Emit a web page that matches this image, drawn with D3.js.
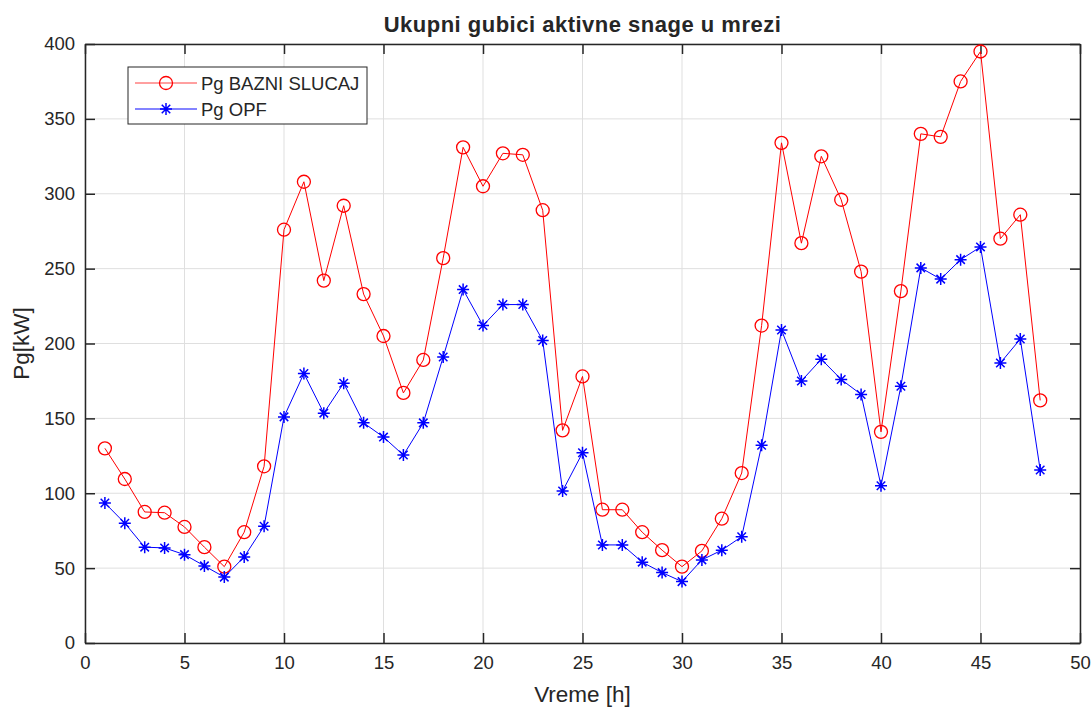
<!DOCTYPE html>
<html lang="en">
<head>
  <meta charset="UTF-8">
  <title>Ukupni gubici aktivne snage u mrezi</title>
  <script src="https://d3js.org/d3.v7.min.js"></script>
  <style>
    body { margin: 0; background: #fff; }
    text { font-family: "Liberation Sans", Arial, sans-serif; fill: #262626; }
  </style>
</head>
<body>
  <svg id="chart"></svg>
  <script>
      const hours = d3.range(1, 49);
      const pgBazni = [130, 109.5, 87.5, 87, 77.5, 64, 51, 74, 118, 276,
        308, 242, 292, 233, 205, 167, 189, 257, 331, 305,
        327, 326, 289, 142, 178, 89, 89, 74, 62, 51,
        61.5, 83, 113.5, 212, 334, 267, 325, 296, 248, 141,
        235, 340, 338, 375, 395, 270, 286, 162];
      const pgOpf = [93.5, 80, 64, 63.5, 59, 51.5, 44, 57.5, 78, 151,
        180, 153.5, 173.5, 147, 137.5, 125.5, 147, 191, 236, 212,
        226, 226, 202, 101.5, 127, 65.5, 65.5, 54, 47, 41,
        55.5, 62, 71, 132, 209, 175, 189.5, 176, 166, 105,
        171.5, 250.5, 243, 256, 264.5, 187, 203, 115.5];
      const xTicks = d3.range(0, 51, 5);
      const yTicks = d3.range(0, 401, 50);

      const W = 1091, H = 708;
      const m = { left: 85, right: 11, top: 44, bottom: 65 };
      const svg = d3.select('#chart').attr('width', W).attr('height', H);

      const x = d3.scaleLinear().domain([0, 50]).range([m.left, W - m.right]);
      const y = d3.scaleLinear().domain([0, 400]).range([H - m.bottom, m.top]);

      // grid
      svg.append('g').selectAll('line').data(xTicks).enter().append('line')
        .attr('x1', d => x(d)).attr('x2', d => x(d))
        .attr('y1', y(0)).attr('y2', y(400))
        .attr('stroke', '#dfdfdf').attr('stroke-width', 1);
      svg.append('g').selectAll('line').data(yTicks).enter().append('line')
        .attr('x1', x(0)).attr('x2', x(50))
        .attr('y1', d => y(d)).attr('y2', d => y(d))
        .attr('stroke', '#dfdfdf').attr('stroke-width', 1);

      // axes with inward ticks on all sides
      const tk = 10;
      const fs = '18.5px';
      svg.append('g').attr('transform', `translate(0,${y(0)})`)
        .call(d3.axisBottom(x).tickValues(xTicks).tickSizeInner(-tk).tickSizeOuter(0).tickPadding(13))
        .call(g => g.selectAll('text').style('font-size', fs));
      svg.append('g').attr('transform', `translate(0,${y(400)})`)
        .call(d3.axisTop(x).tickValues(xTicks).tickSizeInner(-tk).tickSizeOuter(0).tickFormat(''));
      svg.append('g').attr('transform', `translate(${x(0)},0)`)
        .call(d3.axisLeft(y).tickValues(yTicks).tickSizeInner(-tk).tickSizeOuter(0).tickPadding(10))
        .call(g => g.selectAll('text').style('font-size', fs));
      svg.append('g').attr('transform', `translate(${x(50)},0)`)
        .call(d3.axisRight(y).tickValues(yTicks).tickSizeInner(-tk).tickSizeOuter(0).tickFormat(''));
      svg.selectAll('.domain').attr('stroke', '#262626').attr('stroke-width', 1.5);
      svg.selectAll('.tick line').attr('stroke', '#262626').attr('stroke-width', 1.5);
      svg.selectAll('.tick text').attr('fill', '#262626');

      const line = d3.line().x((d, i) => x(hours[i])).y(d => y(d));

      // red base case
      svg.append('path').datum(pgBazni).attr('d', line)
        .attr('fill', 'none').attr('stroke', '#ff0000').attr('stroke-width', 1);
      svg.append('g').selectAll('circle').data(pgBazni).enter().append('circle')
        .attr('cx', (d, i) => x(hours[i])).attr('cy', d => y(d)).attr('r', 6.5)
        .attr('fill', 'none').attr('stroke', '#ff0000').attr('stroke-width', 1.3);

      // blue OPF
      const star = (g, s) => {
        const a = s * 0.7071;
        g.append('path')
          .attr('d', `M${-s},0H${s}M0,${-s}V${s}M${-a},${-a}L${a},${a}M${-a},${a}L${a},${-a}`)
          .attr('stroke', '#0000ff').attr('stroke-width', 1.5).attr('fill', 'none');
      };
      svg.append('path').datum(pgOpf).attr('d', line)
        .attr('fill', 'none').attr('stroke', '#0000ff').attr('stroke-width', 1);
      svg.append('g').selectAll('g').data(pgOpf).enter().append('g')
        .attr('transform', (d, i) => `translate(${x(hours[i])},${y(d)})`)
        .each(function () { star(d3.select(this), 6); });

      // titles
      svg.append('text').attr('x', (x(0) + x(50)) / 2).attr('y', 32)
        .attr('text-anchor', 'middle').style('font-size', '22px').style('font-weight', 'bold')
        .style('letter-spacing', '0.5px').attr('fill', '#000')
        .text('Ukupni gubici aktivne snage u mrezi');
      svg.append('text').attr('x', (x(0) + x(50)) / 2).attr('y', 702)
        .attr('text-anchor', 'middle').style('font-size', '22.5px').text('Vreme [h]');
      svg.append('text').attr('transform', `translate(29,${(y(0) + y(400)) / 2}) rotate(-90)`)
        .attr('text-anchor', 'middle').style('font-size', '22.5px').text('Pg[kW]');

      // legend
      const lg = svg.append('g').attr('transform', 'translate(128,67)');
      lg.append('rect').attr('width', 239).attr('height', 57)
        .attr('fill', '#fff').attr('stroke', '#262626').attr('stroke-width', 1);
      lg.append('line').attr('x1', 7).attr('x2', 69).attr('y1', 16).attr('y2', 16)
        .attr('stroke', '#ff4040').attr('stroke-width', 1);
      lg.append('circle').attr('cx', 38).attr('cy', 16).attr('r', 6.5)
        .attr('fill', 'none').attr('stroke', '#ff0000').attr('stroke-width', 1.3);
      lg.append('line').attr('x1', 7).attr('x2', 69).attr('y1', 42).attr('y2', 42)
        .attr('stroke', '#5a5aff').attr('stroke-width', 1.5);
      star(lg.append('g').attr('transform', 'translate(38,42)'), 6);
      lg.append('text').attr('x', 73).attr('y', 23).style('font-size', '18.5px')
        .attr('fill', '#000').text('Pg BAZNI SLUCAJ');
      lg.append('text').attr('x', 73).attr('y', 49).style('font-size', '18.5px')
        .attr('fill', '#000').text('Pg OPF');
  </script>
</body>
</html>
